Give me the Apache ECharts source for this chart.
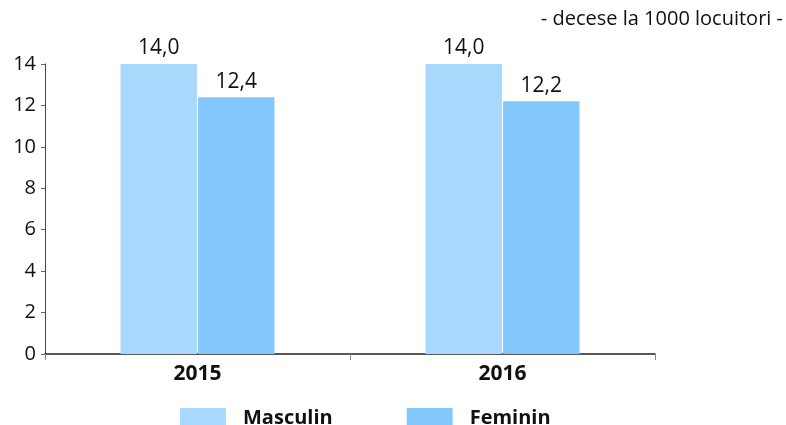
<!DOCTYPE html>
<html><head><meta charset="utf-8">
<script src="https://cdn.jsdelivr.net/npm/echarts@6/dist/echarts.min.js"></script>
<style>html,body{margin:0;padding:0;background:#fff}#c{width:786px;height:425px}</style>
</head><body><div id="c"></div>
<script>
var categories = ['2015', '2016'];
var masculin = [14.0, 14.0];
var feminin = [12.4, 12.2];
var yTicks = [0, 2, 4, 6, 8, 10, 12, 14];
var unitText = '- decese la 1000 locuitori -';

var font = '"Open Sans", "DejaVu Sans", sans-serif';
var chart = echarts.init(document.getElementById('c'), null, {renderer: 'canvas'});
function fmt(p){ return p.value.toFixed(1).replace('.', ','); }
chart.setOption({
  animation: false,
  backgroundColor: '#fff',
  graphic: [{type: 'text', right: 3, top: 9, style: {text: unitText, font: '20px ' + font, fill: '#111'}}],
  grid: {left: 45, right: 131, top: 64, bottom: 71},
  legend: {
    left: 175, top: 403, itemWidth: 46, itemHeight: 20, itemGap: 74,
    icon: 'rect',
    textStyle: {fontFamily: font, fontSize: 20, fontWeight: 'bold', color: '#111', padding: [0, 0, 0, 12]},
    data: ['Masculin', 'Feminin']
  },
  xAxis: {
    type: 'category', data: categories,
    axisLine: {lineStyle: {color: '#222', width: 1.5}},
    axisTick: {show: true, length: 6, lineStyle: {color: '#888'}},
    axisLabel: {fontFamily: font, fontSize: 21, fontWeight: 'bold', color: '#111', margin: 10}
  },
  yAxis: {
    type: 'value', min: yTicks[0], max: yTicks[yTicks.length - 1], interval: 2,
    splitLine: {show: false},
    axisLine: {show: true, lineStyle: {color: '#444'}},
    axisTick: {show: true, length: 4, lineStyle: {color: '#666'}},
    axisLabel: {fontFamily: font, fontSize: 20, color: '#111', margin: 9}
  },
  series: [
    {name: 'Masculin', type: 'bar', data: masculin, barCategoryGap: '49.5%', barGap: '1.5%',
     itemStyle: {color: '#a8d9fc'},
     label: {show: true, position: 'top', distance: 5, formatter: fmt, fontFamily: font, fontSize: 21, color: '#111'}},
    {name: 'Feminin', type: 'bar', data: feminin,
     itemStyle: {color: '#83c8fd'},
     label: {show: true, position: 'top', distance: 5, formatter: fmt, fontFamily: font, fontSize: 21, color: '#111'}}
  ]
});
</script></body></html>
